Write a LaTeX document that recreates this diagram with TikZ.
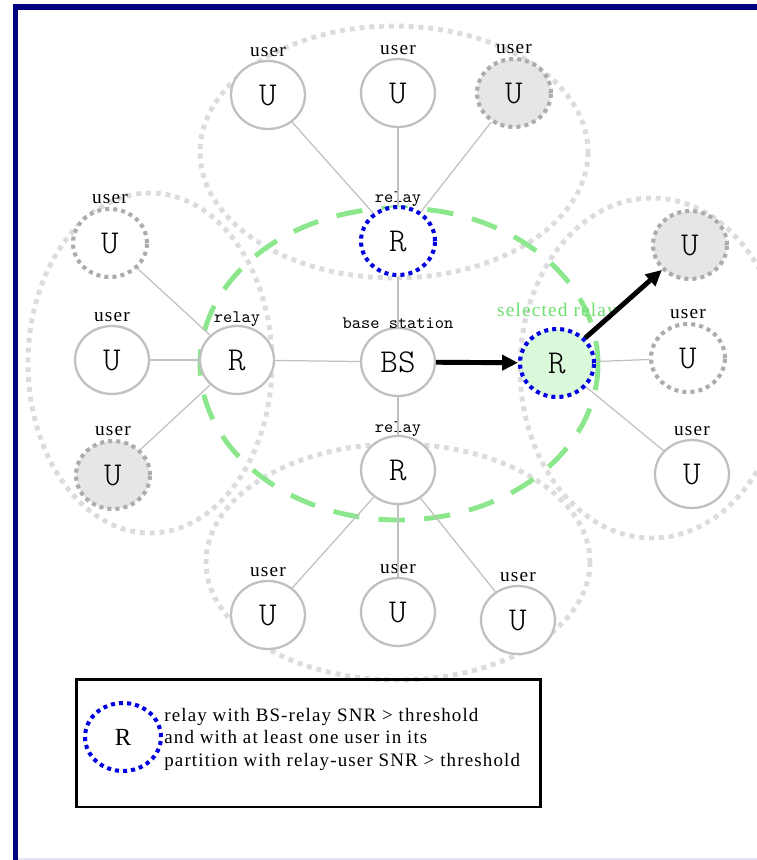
\documentclass[tikz,border=0pt]{standalone}
\usepackage{fontspec}
\usetikzlibrary{shapes.geometric,arrows.meta}
\newfontfamily\userfont[LetterSpace=6]{Liberation Serif}
\newfontfamily\lightmono{Latin Modern Mono Light}
\definecolor{frameblue}{RGB}{0,0,128}
\definecolor{edgegray}{RGB}{192,192,192}
\definecolor{dotgray}{RGB}{172,172,172}
\definecolor{zonegray}{RGB}{220,220,220}
\definecolor{shadegray}{RGB}{230,230,230}
\definecolor{relayblue}{RGB}{0,0,225}
\definecolor{zonegreen}{RGB}{140,230,140}
\definecolor{selgreen}{RGB}{218,248,218}
\definecolor{taggreen}{RGB}{110,222,110}
\definecolor{lavender}{RGB}{228,228,244}

\begin{document}
\begin{tikzpicture}[x=0.02cm,y=-0.02cm,
  station/.style={ellipse,draw=edgegray,line width=1.3pt,fill=white,
    minimum width=1.48cm,minimum height=1.36cm,inner sep=0pt,
    font=\fontsize{19}{19}\lightmono},
  weak/.style={draw=dotgray,line width=2.3pt,dash pattern=on 2.3pt off 2.3pt},
  faded/.style={fill=shadegray},
  good/.style={draw=relayblue,line width=2.3pt,dash pattern=on 2.3pt off 2.3pt},
  tag/.style={font=\fontsize{10}{10}\ttfamily,inner sep=0pt,yshift=-1pt},
  usertag/.style={font=\fontsize{11}{11}\userfont,inner sep=1.5pt},
  link/.style={draw=edgegray,line width=0.7pt},
  zone/.style={draw=zonegray,line width=2.8pt,dash pattern=on 2.8pt off 2.8pt},
  push/.style={line width=2.8pt,-{Triangle[length=9pt,width=8.5pt]}}
]
  \useasboundingbox (0,0) rectangle (757,860);
  % frame
  \draw[lavender,line width=0.6pt] (18,859) -- (757,859);
  \draw[frameblue,line width=3pt] (15.5,860) -- (15.5,7) -- (757,7);

  % partitions of the relays
  \draw[zone] (394,152) ellipse [x radius=194,y radius=126];% top
  \draw[zone] (150,363) ellipse [x radius=122,y radius=170];% left
  \draw[zone] (652,368) ellipse [x radius=132,y radius=170];% right
  \draw[zone] (398,562) ellipse [x radius=192,y radius=118];% bottom
  % range of the base station
  \draw[zonegreen,line width=2.8pt,dash pattern=on 15pt off 11pt]
    (399,364) ellipse [x radius=199,y radius=156];

  % base station and relays
  \node[station,label={[tag]above:base station}] (bs) at (398,362) {BS};
  \node[station,good,label={[tag]above:relay}] (rT) at (398,241) {R};
  \node[station,label={[tag]above:relay}] (rL) at (237,360) {R};
  \node[station,label={[tag]above:relay}] (rB) at (398,470) {R};
  \node[station,good,fill=selgreen,
    label={[usertag,text=taggreen,yshift=2pt]above:selected relay}] (sel) at (557,363) {R};

  % users, top
  \node[station,label={[usertag]above:user}] (uT1) at (268,95) {U};
  \node[station,label={[usertag]above:user}] (uT2) at (398,93) {U};
  \node[station,weak,faded,label={[usertag]above:user}] (uT3) at (514,93) {U};
  % users, left
  \node[station,weak,label={[usertag]above:user}] (uL1) at (110,243) {U};
  \node[station,label={[usertag]above:user}] (uL2) at (112,360) {U};
  \node[station,weak,faded,label={[usertag]above:user}] (uL3) at (113,475) {U};
  % users, right
  \node[station,weak,faded] (uR1) at (690,245) {U};
  \node[station,weak,label={[usertag]above:user}] (uR2) at (688,358) {U};
  \node[station,label={[usertag]above:user}] (uR3) at (692,474) {U};
  % users, bottom
  \node[station,label={[usertag]above:user}] (uB1) at (268,615) {U};
  \node[station,label={[usertag]above:user}] (uB2) at (398,612) {U};
  \node[station,label={[usertag]above:user}] (uB3) at (518,620) {U};

  % links
  \foreach \u in {uT1,uT2,uT3}{\draw[link] (\u) -- (rT);}
  \foreach \u in {uL1,uL2,uL3}{\draw[link] (\u) -- (rL);}
  \foreach \u in {uB1,uB2,uB3}{\draw[link] (\u) -- (rB);}
  \foreach \u in {uR2,uR3}{\draw[link] (\u) -- (sel);}
  \foreach \r in {rT,rL,rB}{\draw[link] (\r) -- (bs);}
  \draw[push] (bs) -- (sel);
  \draw[push] (sel) -- (uR1);

  % legend
  \node[draw,line width=1.7pt,minimum width=9.3cm,minimum height=2.56cm] (legend) at (308.5,743) {};
  \node[station,good,draw=relayblue,minimum width=1.52cm,minimum height=1.36cm,
    font=\fontsize{14}{14}\userfont] (key) at (123,737) {R};
  \node[anchor=west,align=left,inner sep=0pt,
    font=\fontsize{10.8}{12.8}\userfont] (keytext) at (164,739)
    {relay with BS-relay SNR > threshold\\
     and with at least one user in its\\
     partition with relay-user SNR > threshold};
\end{tikzpicture}
\end{document}
